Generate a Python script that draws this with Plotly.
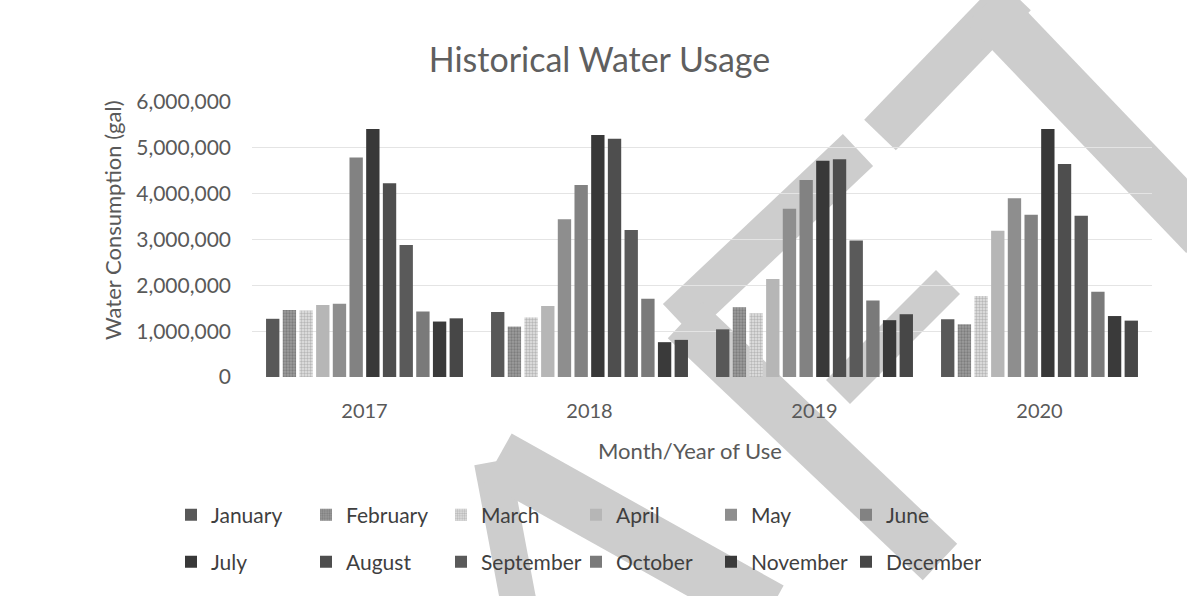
import plotly.graph_objects as go

years = ["2017", "2018", "2019", "2020"]
months = ["January", "February", "March", "April", "May", "June",
          "July", "August", "September", "October", "November", "December"]

jan = [1270000, 1420000, 1040000, 1260000]
feb = [1460000, 1100000, 1520000, 1150000]
mar = [1450000, 1300000, 1390000, 1770000]
apr = [1570000, 1550000, 2140000, 3190000]
may = [1600000, 3440000, 3670000, 3900000]
jun = [4790000, 4190000, 4300000, 3540000]
jul = [5410000, 5280000, 4720000, 5410000]
aug = [4230000, 5200000, 4750000, 4650000]
sep = [2880000, 3210000, 2980000, 3520000]
oct_ = [1430000, 1710000, 1670000, 1860000]
nov = [1210000, 760000, 1240000, 1330000]
dec = [1280000, 810000, 1370000, 1230000]
series = [jan, feb, mar, apr, may, jun, jul, aug, sep, oct_, nov, dec]

colors = ["#585858", "#8a8a8a", "#c4c4c4", "#b6b6b6", "#8e8e8e", "#828282",
          "#383838", "#4e4e4e", "#5a5a5a", "#7a7a7a", "#3a3a3a", "#474747"]

W_IMG, H_IMG = 1187, 596
L, R, T, B = 252, 1152, 102, 377
FONT = "Lato, sans-serif"

fig = go.Figure()
for i, (m, vals) in enumerate(zip(months, series)):
    marker = dict(color=colors[i], line=dict(width=0))
    if m == "February":
        marker["pattern"] = dict(shape=".", fgcolor="#5e5e5e", bgcolor="#9c9c9c", size=3, solidity=0.45)
    elif m == "March":
        marker["pattern"] = dict(shape=".", fgcolor="#8a8a8a", bgcolor="#e4e4e4", size=3, solidity=0.5)
    fig.add_trace(go.Bar(
        name=m, x=years, y=vals, marker=marker,
        legend="legend" if i < 6 else "legend2",
    ))

# scanned watermark (decorative light-gray bands), given in page pixels
def px(x, y):
    return (x - L) / (R - L), (B - y) / (B - T)

bands = [
    ((880, 135), (1015, -5), 44),
    ((985, 5), (1205, 235), 52),
    ((678, 320), (858, 150), 44),
    ((685, 320), (940, 562), 50),
    ((838, 392), (948, 282), 34),
    ((492, 462), (520, 610), 36),
    ((498, 458), (770, 610), 56),
]
shapes = []
for (x0, y0), (x1, y1), w in bands:
    a0, b0 = px(x0, y0)
    a1, b1 = px(x1, y1)
    shapes.append(dict(type="line", xref="paper", yref="paper", x0=a0, y0=b0, x1=a1, y1=b1,
                       line=dict(color="#cdcdcd", width=w), layer="below"))

lx, _ = px(171, 0)
_, ly1 = px(0, 515)
_, ly2 = px(0, 562)

ytx, yty = px(112, 220)
xtx, xty = px(690, 450)

legend_common = dict(orientation="h", xanchor="left", yanchor="middle",
                     font=dict(family=FONT, size=21, color="#3f3f3f"),
                     entrywidth=90, entrywidthmode="pixels", itemwidth=30,
                     bgcolor="rgba(0,0,0,0)", traceorder="normal")

fig.update_layout(
    width=W_IMG, height=H_IMG,
    margin=dict(l=L, r=W_IMG - R, t=T, b=H_IMG - B),
    paper_bgcolor="white", plot_bgcolor="rgba(0,0,0,0)",
    barmode="group", bargap=0.11, bargroupgap=0.2,
    title=dict(text="Historical Water Usage", x=0.505, xref="container", xanchor="center",
               y=1 - 60 / H_IMG, yref="container", yanchor="middle",
               font=dict(family=FONT, size=34, color="#5f5f5f")),
    font=dict(family=FONT, color="#595959"),
    xaxis=dict(tickfont=dict(size=20, color="#595959"), showgrid=False,
               showline=False, ticks="", ticklabelstandoff=20),
    yaxis=dict(range=[0, 6000000], dtick=1000000, tickformat=",",
               tickfont=dict(size=21, color="#595959"), ticklabelstandoff=20,
               gridcolor="#e4e4e4", gridwidth=1, zeroline=False, ticks=""),
    legend=dict(x=lx, y=ly1, **legend_common),
    legend2=dict(x=lx, y=ly2, **legend_common),
    shapes=shapes,
    annotations=[
        dict(text="Water Consumption (gal)", xref="paper", yref="paper", x=ytx, y=yty,
             xanchor="center", yanchor="middle", textangle=-90, showarrow=False,
             font=dict(family=FONT, size=22, color="#595959")),
        dict(text="Month/Year of Use", xref="paper", yref="paper", x=xtx, y=xty,
             xanchor="center", yanchor="middle", showarrow=False,
             font=dict(family=FONT, size=22, color="#595959")),
    ],
)

fig.write_html("out.html")
